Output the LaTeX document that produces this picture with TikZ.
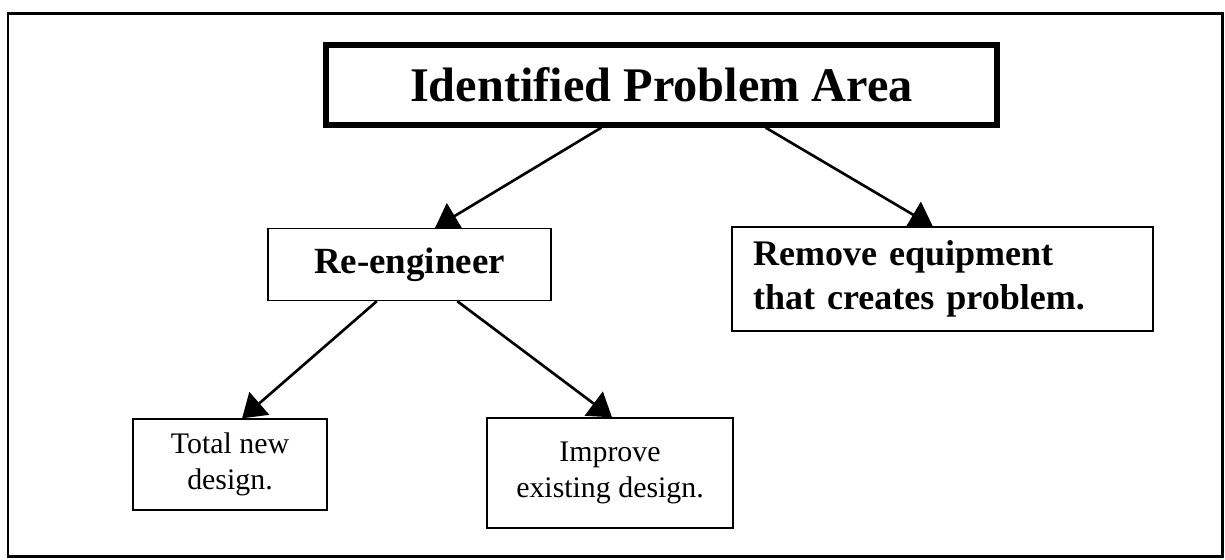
\documentclass[tikz,border=0pt]{standalone}
\usepackage{fontspec}
\setmainfont{Liberation Serif}
\usetikzlibrary{arrows.meta,calc}

\tikzset{
  box/.style={draw, line width=0.8pt, inner sep=0pt, align=center},
  topbox/.style={box, line width=3pt},
  arr/.style={-{Triangle[length=13pt,width=17pt]}, line width=1.5pt}
}

\begin{document}
\begin{tikzpicture}[x=0.02cm, y=-0.02cm]
  \useasboundingbox (0,0) rectangle (1225,559);
  \draw[line width=1.7pt] (8,13) rectangle (1222,556);

  \node[topbox, minimum width=13.42cm, minimum height=1.6cm,
        font=\fontsize{27.5}{33}\selectfont\bfseries] (idp) at (661.5,85) {Identified Problem Area};
  \node[box, minimum width=5.66cm, minimum height=1.44cm,
        font=\fontsize{21}{25}\selectfont\bfseries] (reeng) at (409.5,264.5) {Re-engineer};
  \node[box, align=left, inner xsep=0.42cm, inner ysep=0pt, text width=7.58cm, minimum height=2.08cm,
        font=\fontsize{20.5}{25}\selectfont\bfseries] (remove) at (942.5,279)
        {Remove equipment\\that creates problem.};
  \node[box, minimum width=3.88cm, minimum height=1.82cm,
        font=\fontsize{17}{20.5}\selectfont] (total) at (230,464.5) {Total new\\design.};
  \node[box, minimum width=4.92cm, minimum height=2.2cm,
        font=\fontsize{17}{20.5}\selectfont] (improve) at (610,473) {Improve\\existing design.};

  \draw[arr] ($(idp.south west)!0.411!(idp.south east)$) -- ($(reeng.north west)!0.59!(reeng.north east)$);
  \draw[arr] ($(idp.south west)!0.654!(idp.south east)$) -- ($(remove.north west)!0.477!(remove.north east)$);
  \draw[arr] ($(reeng.south west)!0.385!(reeng.south east)$) -- ($(total.north west)!0.562!(total.north east)$);
  \draw[arr] ($(reeng.south west)!0.668!(reeng.south east)$) -- ($(improve.north west)!0.508!(improve.north east)$);
\end{tikzpicture}
\end{document}
